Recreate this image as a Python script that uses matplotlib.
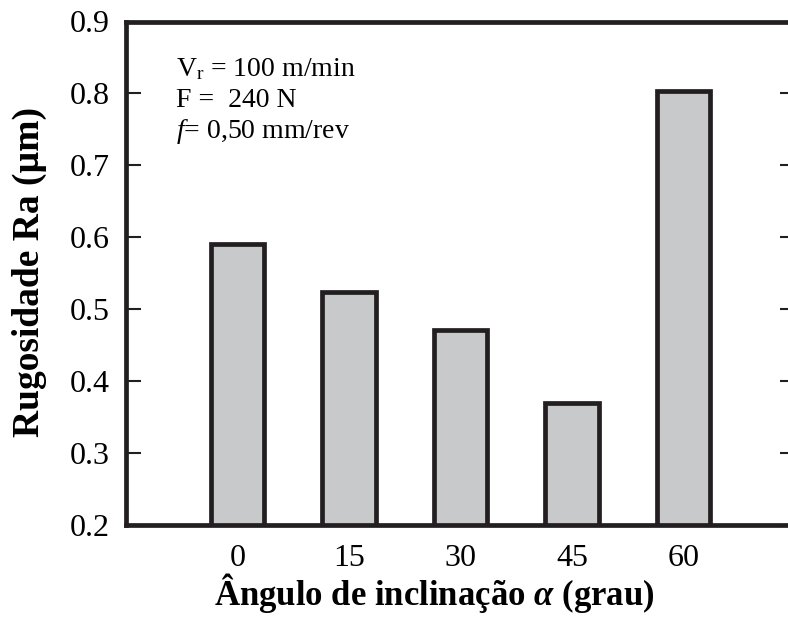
import matplotlib
matplotlib.use("Agg")
import matplotlib.pyplot as plt

categories = ["0", "15", "30", "45", "60"]
ra_values = [0.590, 0.524, 0.471, 0.370, 0.803]
yticks = [0.2, 0.3, 0.4, 0.5, 0.6, 0.7, 0.8, 0.9]

plt.rcParams['font.family'] = ['Liberation Serif', 'DejaVu Serif']
plt.rcParams['mathtext.fontset'] = 'custom'
plt.rcParams['mathtext.rm'] = 'Liberation Serif'
plt.rcParams['mathtext.it'] = 'Liberation Serif:italic'
plt.rcParams['mathtext.bf'] = 'Liberation Serif:italic:bold'

fig = plt.figure(figsize=(7.88, 6.21), dpi=100)
ax = fig.add_axes([126/788, 1-525/621, (795-126)/788, (525-21.5)/621])

x = list(range(len(categories)))
ax.bar(x, ra_values, width=0.48, bottom=0, color='#c8c9cb', edgecolor='#231f20', linewidth=3.4, zorder=2)

ax.set_xlim(-1, 5)
ax.set_ylim(0.2, 0.9)
ax.set_xticks(x)
ax.set_xticklabels(categories)
ax.set_yticks(yticks)
ax.set_yticklabels([f"{v:.1f}" for v in yticks])

for s in ax.spines.values():
    s.set_linewidth(3.4)
    s.set_color('#231f20')
ax.spines['right'].set_visible(False)

ax.tick_params(axis='y', direction='in', length=11, width=1.5, labelsize=23, pad=12, right=True, left=True, colors='#231f20')
ax.tick_params(axis='x', length=0, labelsize=23, pad=14, colors='#231f20')
for lbl in ax.get_xticklabels() + ax.get_yticklabels():
    lbl.set_color('black')

ax.set_xlabel("Ângulo de inclinação $\\mathbf{\\alpha}$ (grau)", fontsize=25, fontweight='bold')
ax.xaxis.set_label_coords((434-126)/669, (525-571)/503.5)
ax.set_ylabel("Rugosidade Ra (µm)", fontsize=27, fontweight='bold')
ax.yaxis.set_label_coords((47-126)/669, (525-272)/503.5)

ax.text(0.075, 0.905, "V$_\\mathrm{r}$ = 100 m/min", transform=ax.transAxes, fontsize=20, va='center', ha='left')
ax.text(0.075, 0.843, "F =  240 N", transform=ax.transAxes, fontsize=20, va='center', ha='left')
ax.text(0.075, 0.781, "$f$= 0,50 mm/rev", transform=ax.transAxes, fontsize=20, va='center', ha='left')

fig.savefig("out.png", dpi=100)
